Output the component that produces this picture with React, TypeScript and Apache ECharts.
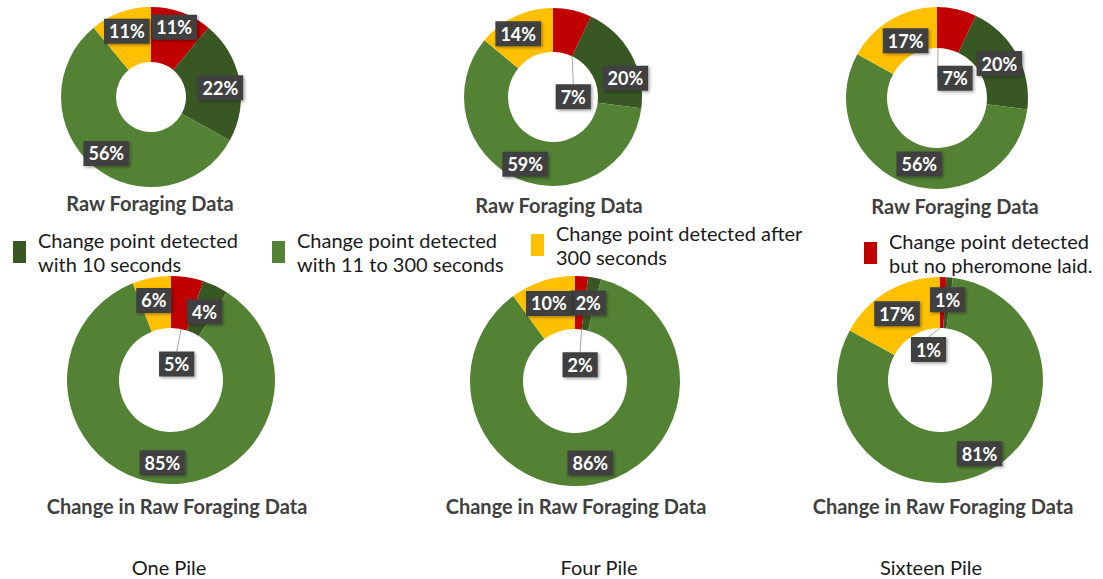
import React, { useEffect, useRef } from "react";
import * as echarts from "echarts";

// ---------- data ----------
const categories = [
  "Change point detected with 10 seconds",
  "Change point detected with 11 to 300 seconds",
  "Change point detected after 300 seconds",
  "Change point detected but no pheromone laid.",
];
const legendLines = [
  "Change point detected\nwith 10 seconds",
  "Change point detected\nwith 11 to 300 seconds",
  "Change point detected after\n300 seconds",
  "Change point detected\nbut no pheromone laid.",
];
// values in category order: [10 s, 11-300 s, after 300 s, no pheromone]
const onePileRaw = [22, 56, 11, 11];
const fourPileRaw = [20, 59, 14, 7];
const sixteenPileRaw = [20, 56, 17, 7];
const onePileChange = [4, 85, 6, 5];
const fourPileChange = [2, 86, 10, 2];
const sixteenPileChange = [1, 81, 17, 1];

const rawTitle = "Raw Foraging Data";
const changeTitle = "Change in Raw Foraging Data";
const pileLabels = ["One Pile", "Four Pile", "Sixteen Pile"];

// ---------- style ----------
const colors = ["#385723", "#548235", "#FFC000", "#C00000"];
const sliceOrder = [3, 0, 1, 2]; // clockwise from 12 o'clock
const FONT = "Lato, 'Open Sans', sans-serif";

// label offsets (px) per slice in slice order [red, dark, green, yellow]
const pies = [
  { values: onePileRaw, center: [151, 97], radius: [35, 90], offsets: [[1, -8], [5, 3], [-3, 6], [-2, -4]], moved: -1 },
  { values: fourPileRaw, center: [553, 97], radius: [45, 89], offsets: [[5, 68], [11, 15], [0, 3], [-5, 0]], moved: 0 },
  { values: sixteenPileRaw, center: [937, 98], radius: [50, 91], offsets: [[2, 52], [-2, 1], [5, -4], [6, 6]], moved: 0 },
  { values: onePileChange, center: [171, 380], radius: [52, 104], offsets: [[-7, 64], [-1, 5], [-1, 2], [-2, 0]], moved: 0 },
  { values: fourPileChange, center: [575, 381], radius: [52, 105], offsets: [[0, 65], [-2, 2], [0, 2], [-1, 0]], moved: 0 },
  { values: sixteenPileChange, center: [940, 380], radius: [52, 103], offsets: [[-14, 50], [0, 0], [3, 2], [-2, 3]], moved: 0 },
];

const titlePos = [
  [rawTitle, 150, 203],
  [rawTitle, 559, 205],
  [rawTitle, 955, 206],
  [changeTitle, 177, 506],
  [changeTitle, 576, 506],
  [changeTitle, 943, 506],
];
const pilePos = [169, 599, 931];
const legendPos = [
  [13, 228],
  [272, 228],
  [531, 221],
  [864, 229],
];

export default function App() {
  const ref = useRef<HTMLDivElement>(null);
  useEffect(() => {
    if (!ref.current) return;
    const chart = echarts.init(ref.current, null, { renderer: "svg" });

    const series = pies.map((p, pi) => ({
      type: "pie",
      name: "pie" + pi,
      center: p.center,
      radius: p.radius,
      startAngle: 90,
      clockwise: true,
      avoidLabelOverlap: false,
      silent: true,
      label: {
        show: true,
        position: "inside",
        formatter: "{c}%",
        color: "#ffffff",
        fontFamily: FONT,
        fontWeight: "bold",
        fontSize: 18,
        lineHeight: 18,
        backgroundColor: "#404040",
        padding: [4, 5, 3, 5],
        shadowColor: "rgba(0,0,0,0.35)",
        shadowBlur: 3,
        shadowOffsetX: 1.5,
        shadowOffsetY: 1.5,
      },
      labelLine: { show: false },
      labelLayout: (params: any) => {
        const o = p.offsets[params.dataIndex];
        if (!o || (o[0] === 0 && o[1] === 0)) return {};
        const r = params.labelRect;
        return { x: r.x + r.width / 2 + o[0], y: r.y + r.height / 2 + o[1] };
      },
      data: sliceOrder.map((ci, si) => ({
        name: categories[ci],
        value: p.values[ci],
        itemStyle: { color: colors[ci] },
        labelLine:
          si === p.moved
            ? { show: true, length2: 0, lineStyle: { color: "#a6a6a6", width: 1 } }
            : { show: false },
      })),
    }));

    const graphic: any[] = [];
    titlePos.forEach(([t, x, y]) => {
      graphic.push({
        type: "text",
        x,
        y,
        silent: true,
        style: {
          text: t,
          fill: "#404040",
          fontFamily: FONT,
          fontWeight: "bold",
          fontSize: 20,
          align: "center",
          verticalAlign: "middle",
        },
      });
    });
    pileLabels.forEach((t, i) => {
      graphic.push({
        type: "text",
        x: pilePos[i],
        y: 567,
        silent: true,
        style: {
          text: t,
          fill: "#1a1a1a",
          fontFamily: FONT,
          fontSize: 20,
          align: "center",
          verticalAlign: "middle",
        },
      });
    });

    const legend = categories.map((c, i) => ({
      data: [c],
      left: legendPos[i][0],
      top: legendPos[i][1],
      padding: 0,
      itemWidth: 13,
      itemHeight: 22,
      icon: "rect",
      selectedMode: false,
      formatter: () => legendLines[i],
      textStyle: {
        color: "#1a1a1a",
        fontFamily: FONT,
        fontSize: 20,
        lineHeight: 24,
        padding: [0, 0, 0, 7],
      },
    }));

    chart.setOption({
      animation: false,
      backgroundColor: "#ffffff",
      legend,
      series,
      graphic,
    });
    return () => chart.dispose();
  }, []);
  return (
    <div
      ref={ref}
      style={{ position: "absolute", left: 0, top: 0, width: 1103, height: 579 }}
    />
  );
}
